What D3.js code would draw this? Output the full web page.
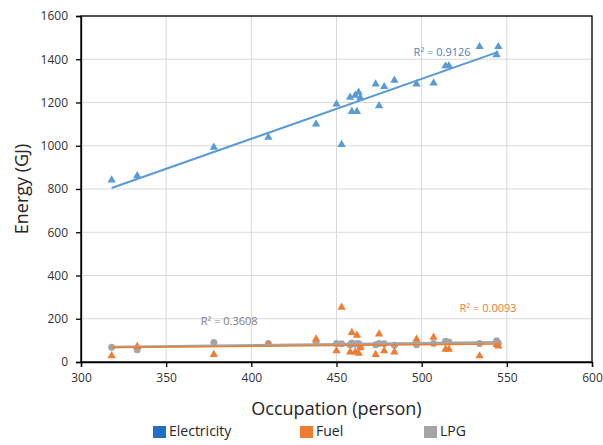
<!DOCTYPE html>
<html lang="en">
<head>
<meta charset="UTF-8">
<title>Energy vs Occupation</title>
<style>
  body, html {
    margin: 0;
    background: #fff;
    overflow: hidden;
  }
  text {
    font-family: "Open Sans", "Liberation Sans", sans-serif;
  }
  .grid line {
    stroke: #d9d9d9;
    stroke-width: 1;
  }
</style>
</head>
<body>
<div id="chart"></div>

<script src="https://d3js.org/d3.v7.min.js"></script>
<script>
// occupation (person) for each month, shared by all three series
const occupation  = [318, 333, 378, 410, 438, 450, 453, 458, 459, 462, 461, 463,
                     464, 473, 475, 478, 484, 497, 507, 514, 516, 534, 545, 544];
const electricity = [841, 861, 993, 1039, 1100, 1193, 1005, 1224, 1158, 1158, 1233, 1247,
                     1222, 1285, 1185, 1273, 1303, 1285, 1290, 1369, 1370, 1458, 1458, 1420];
const fuel        = [29, 71, 34, 80, 106, 52, 253, 46, 136, 123, 46, 40,
                     65, 34, 129, 52, 46, 105, 114, 59, 59, 28, 74, 80];
const lpg         = [68, 57, 90, 85, 89, 85, 84, 80, 88, 85, 82, 86,
                     70, 80, 86, 84, 78, 80, 86, 96, 92, 86, 88, 98];

const xTicks = [300, 350, 400, 450, 500, 550, 600];
const yTicks = [0, 200, 400, 600, 800, 1000, 1200, 1400, 1600];

// label text + where Excel put it (in data units)
const r2Labels = [
  { text: "R\u00b2 = 0.9126", x: 512, y: 1430, color: "#4f81bd" },
  { text: "R\u00b2 = 0.0093", x: 539, y: 245, color: "#ed7d31" },
  { text: "R\u00b2 = 0.3608", x: 387, y: 185, color: "#7f7f7f" }
];

const series = [
  { name: "Electricity", values: electricity, color: "#5b9bd5", legend: "#1f6fc5", marker: "tri", lw: 2 },
  { name: "Fuel",        values: fuel,        color: "#ed7d31", legend: "#ed7d31", marker: "tri", lw: 1.5 },
  { name: "LPG",         values: lpg,         color: "#a5a5a5", legend: "#a5a5a5", marker: "circle", lw: 2.5 }
];

const W = 603, H = 445;
const margin = { top: 16, right: 11, bottom: 83, left: 81 };

const svg = d3.select("#chart").append("svg")
  .attr("width", W)
  .attr("height", H);

const x = d3.scaleLinear().domain([300, 600]).range([margin.left, W - margin.right]);
const y = d3.scaleLinear().domain([0, 1600]).range([H - margin.bottom, margin.top]);

// gridlines
const grid = svg.append("g").attr("class", "grid");
grid.selectAll(".gx").data(xTicks).enter().append("line")
  .attr("x1", d => x(d)).attr("x2", d => x(d))
  .attr("y1", y(0)).attr("y2", y(1600));
grid.selectAll(".gy").data(yTicks).enter().append("line")
  .attr("y1", d => y(d)).attr("y2", d => y(d))
  .attr("x1", x(300)).attr("x2", x(600));

// plot border
svg.append("rect")
  .attr("x", x(300)).attr("y", y(1600))
  .attr("width", x(600) - x(300)).attr("height", y(0) - y(1600))
  .attr("fill", "none").attr("stroke", "#000").attr("stroke-width", 1.3);

// axes
const xAxis = svg.append("g")
  .attr("transform", `translate(0,${y(0)})`)
  .call(d3.axisBottom(x).tickValues(xTicks).tickFormat(d3.format("d")).tickSize(5).tickPadding(6));
const yAxis = svg.append("g")
  .attr("transform", `translate(${x(300)},0)`)
  .call(d3.axisLeft(y).tickValues(yTicks).tickFormat(d3.format("d")).tickSize(5).tickPadding(8));

[xAxis, yAxis].forEach(a => {
  a.select(".domain").attr("stroke", "#000").attr("stroke-width", 1.3);
  a.selectAll(".tick line").attr("stroke", "#000").attr("stroke-width", 1.3);
  a.selectAll(".tick text")
    .attr("font-size", 12)
    .attr("font-family", "'Open Sans', sans-serif")
    .attr("fill", "#333");
});

// simple least squares fit
function fit(xs, ys) {
  const n = xs.length;
  const mx = d3.mean(xs), my = d3.mean(ys);
  let sxy = 0, sxx = 0;
  for (let i = 0; i < n; i++) {
    sxy += (xs[i] - mx) * (ys[i] - my);
    sxx += (xs[i] - mx) * (xs[i] - mx);
  }
  const b = sxy / sxx;
  return { a: my - b * mx, b: b };
}

const xMin = d3.min(occupation), xMax = d3.max(occupation);

// draw LPG and fuel first so electricity sits on top like excel
series.slice().reverse().forEach(s => {
  const g = svg.append("g");
  const pts = occupation.map((o, i) => [o, s.values[i]]);

  if (s.marker === "tri") {
    g.selectAll("path").data(pts).enter().append("path")
      .attr("d", d3.symbol().type(d3.symbolTriangle).size(30))
      .attr("transform", d => `translate(${x(d[0])},${y(d[1])})`)
      .attr("fill", s.color);
  } else {
    g.selectAll("circle").data(pts).enter().append("circle")
      .attr("cx", d => x(d[0])).attr("cy", d => y(d[1]))
      .attr("r", 3.5)
      .attr("fill", s.color);
  }
});

// trend lines
series.slice().reverse().forEach(s => {
  const f = fit(occupation, s.values);
  svg.append("line")
    .attr("x1", x(xMin)).attr("y1", y(f.a + f.b * xMin))
    .attr("x2", x(xMax)).attr("y2", y(f.a + f.b * xMax))
    .attr("stroke", s.color)
    .attr("stroke-width", s.lw);
});

// R squared labels
svg.selectAll(".r2").data(r2Labels).enter().append("text")
  .attr("class", "r2")
  .attr("x", d => x(d.x)).attr("y", d => y(d.y))
  .attr("text-anchor", "middle")
  .attr("dominant-baseline", "middle")
  .attr("font-size", 11)
  .attr("fill", d => d.color)
  .text(d => d.text);

// axis titles
svg.append("text")
  .attr("x", (x(300) + x(600)) / 2).attr("y", 415)
  .attr("text-anchor", "middle")
  .attr("font-size", 18)
  .attr("fill", "#262626")
  .text("Occupation (person)");

svg.append("text")
  .attr("transform", `translate(28,${(y(0) + y(1600)) / 2}) rotate(-90)`)
  .attr("text-anchor", "middle")
  .attr("font-size", 18)
  .attr("fill", "#262626")
  .text("Energy (GJ)");

// legend
const legendX = [153, 300, 424];
const leg = svg.selectAll(".leg").data(series).enter().append("g")
  .attr("class", "leg")
  .attr("transform", (d, i) => `translate(${legendX[i]},432)`);
leg.append("rect")
  .attr("x", 0).attr("y", -6)
  .attr("width", 13).attr("height", 12)
  .attr("fill", d => d.legend);
leg.append("text")
  .attr("x", 16).attr("y", 0)
  .attr("dominant-baseline", "middle")
  .attr("font-size", 14)
  .attr("fill", "#262626")
  .text(d => d.name);
</script>
</body>
</html>
